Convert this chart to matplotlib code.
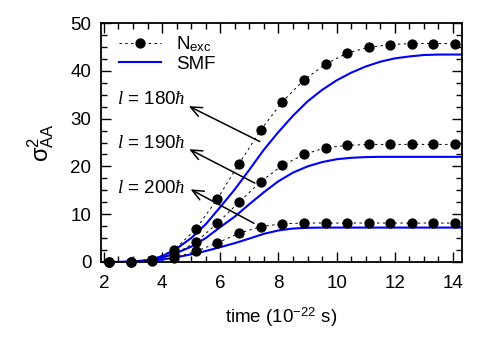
import matplotlib
matplotlib.use("Agg")
import matplotlib.pyplot as plt
from matplotlib.ticker import MultipleLocator
from matplotlib.lines import Line2D

plt.rcParams['font.family'] = ['Liberation Sans', 'DejaVu Sans']
plt.rcParams['mathtext.fontset'] = 'custom'
plt.rcParams['mathtext.rm'] = 'Liberation Sans'
plt.rcParams['mathtext.it'] = 'Liberation Serif:italic'
plt.rcParams['mathtext.bf'] = 'Liberation Sans:bold'

# N_exc points (time in 1e-22 s)
t_dots = [2.17, 2.92, 3.66, 4.41, 5.15, 5.90, 6.64, 7.39, 8.13, 8.88,
          9.62, 10.36, 11.10, 11.85, 12.59, 13.33, 14.07]
nexc_180 = [0.0, 0.1, 0.5, 2.5, 6.8, 13.2, 20.5, 27.6, 33.5, 38.1,
            41.4, 43.7, 44.9, 45.5, 45.7, 45.7, 45.7]
nexc_190 = [0.0, 0.05, 0.35, 1.6, 4.1, 8.1, 12.5, 16.8, 20.2, 22.5,
            23.9, 24.4, 24.6, 24.6, 24.6, 24.6, 24.6]
nexc_200 = [0.0, 0.0, 0.2, 0.9, 2.2, 4.0, 6.0, 7.4, 8.0, 8.15,
            8.15, 8.15, 8.15, 8.15, 8.15, 8.15, 8.15]

# SMF curves
t_smf = [2.0, 2.5, 3.0, 3.5, 4.0, 4.5, 5.0, 5.5, 6.0, 6.5, 7.0, 7.5, 8.0,
         8.5, 9.0, 9.5, 10.0, 10.5, 11.0, 11.5, 12.0, 12.5, 13.0, 13.5,
         14.0, 14.3]
smf_180 = [0.0, 0.0, 0.1, 0.4, 1.2, 2.8, 5.0, 7.9, 11.5, 15.2, 19.3, 23.5,
           27.2, 30.6, 33.6, 36.0, 38.0, 39.6, 40.9, 41.9, 42.6, 43.0,
           43.3, 43.4, 43.4, 43.4]
smf_190 = [0.0, 0.0, 0.05, 0.3, 0.9, 1.9, 3.2, 5.0, 7.3, 9.5, 12.1, 14.6,
           16.9, 18.7, 20.0, 20.9, 21.5, 21.8, 21.95, 22.0, 22.0, 22.0,
           22.0, 22.0, 22.0, 22.0]
smf_200 = [0.0, 0.0, 0.05, 0.2, 0.5, 1.0, 1.6, 2.3, 3.1, 3.95, 4.9, 5.9,
           6.6, 7.0, 7.15, 7.2, 7.2, 7.2, 7.2, 7.2, 7.2, 7.2, 7.2, 7.2,
           7.2, 7.2]

labels = [r'$l$ = 180$\hbar$', r'$l$ = 190$\hbar$', r'$l$ = 200$\hbar$']
label_pos = [(4.79, 33.9), (4.79, 24.7), (4.79, 15.4)]
arrow_heads = [(4.92, 32.6), (4.93, 23.6), (4.98, 15.2)]
arrow_tails = [(7.36, 25.2), (7.19, 16.5), (7.16, 8.1)]

FS = 13.5

fig = plt.figure(figsize=(4.91, 3.43), dpi=100)
ax = fig.add_axes([101/491, 1 - 262/343, (462 - 101)/491, (262 - 23)/343])

dot_kw = dict(color='black', ls=(0, (2.5, 3.5)), lw=0.7, marker='o',
              markersize=6.4, clip_on=False, zorder=3)
for ys in (nexc_180, nexc_190, nexc_200):
    ax.plot(t_dots, ys, **dot_kw)
for ys in (smf_180, smf_190, smf_200):
    ax.plot(t_smf, ys, color='#0000ff', lw=1.5, zorder=2)

for txt, (lx, ly), head, tail in zip(labels, label_pos, arrow_heads, arrow_tails):
    ax.text(lx, ly, txt, ha='right', va='center', fontsize=FS)
    ax.annotate('', xy=head, xytext=tail,
                arrowprops=dict(arrowstyle='->,head_length=0.8,head_width=0.35',
                                lw=1.1, color='black', shrinkA=0, shrinkB=0))

ax.set_xlim(1.9, 14.31)
ax.set_ylim(0, 50)
ax.xaxis.set_major_locator(MultipleLocator(2))
ax.xaxis.set_minor_locator(MultipleLocator(0.5))
ax.yaxis.set_major_locator(MultipleLocator(10))
ax.yaxis.set_minor_locator(MultipleLocator(2.5))
ax.tick_params(which='both', direction='in', top=True, right=True,
               labelsize=FS, width=1)
ax.tick_params(which='major', length=7)
ax.tick_params(which='minor', length=4)
ax.tick_params(axis='x', which='major', pad=9)
ax.tick_params(axis='y', which='major', pad=7)
for s in ax.spines.values():
    s.set_linewidth(1.3)

ax.set_xlabel(r'time (10$^{-22}$ s)', fontsize=FS, labelpad=10)
ax.set_ylabel(r'$\mathrm{\sigma}^{2}_{\mathrm{AA}}$', fontsize=17, labelpad=10)

handles = [Line2D([], [], color='black', ls=(0, (2.5, 3.5)), lw=0.7,
                  marker='o', markersize=6.4),
           Line2D([], [], color='#0000ff', lw=1.5)]
ax.legend(handles, [r'N$_{\rm exc}$', 'SMF'], loc='upper left',
          frameon=False, fontsize=FS, handlelength=2.2, handletextpad=0.8,
          labelspacing=0.1, borderaxespad=0.2, bbox_to_anchor=(0.02, 1.0))

fig.savefig('out.png', dpi=100)
